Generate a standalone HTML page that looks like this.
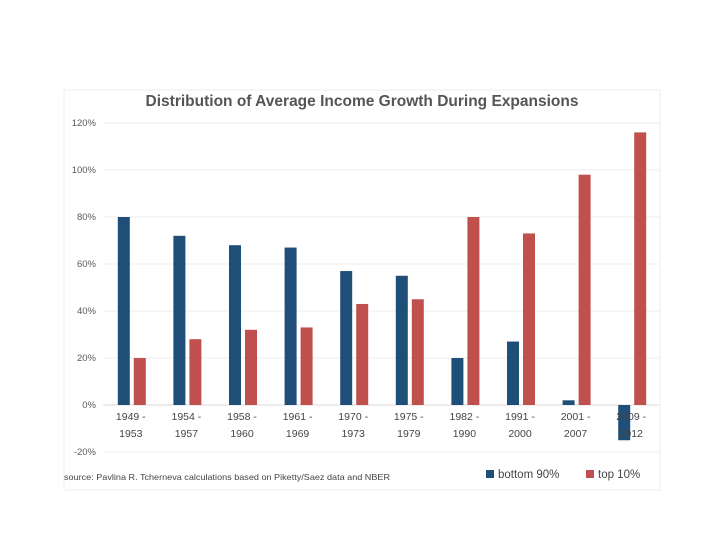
<!DOCTYPE html>
<html><head><meta charset="utf-8"><style>
body{margin:0;background:#fff;width:720px;height:540px;overflow:hidden}
svg{display:block;font-family:"Liberation Sans",sans-serif}
</style></head><body>
<svg id="c" width="720" height="540">
<rect x="64" y="90" width="596" height="400" fill="none" stroke="#eeeeee"/>
<text x="362" y="106" text-anchor="middle" font-size="15.5" font-weight="bold" fill="#555">Distribution of Average Income Growth During Expansions</text>
<g id="grid"></g><g id="bars"></g><g id="xl"></g>
<text x="64" y="480" font-size="8.5" fill="#444" textLength="326" lengthAdjust="spacingAndGlyphs">source: Pavlina R. Tcherneva calculations based on Piketty/Saez data and NBER</text>
<g>
<rect x="486" y="470" width="8" height="8" fill="#1f4e79"/>
<text x="498" y="478" font-size="11.5" fill="#444">bottom 90%</text>
<rect x="586" y="470" width="8" height="8" fill="#c0504d"/>
<text x="598" y="478" font-size="11.5" fill="#444">top 10%</text>
</g>
</svg>
<script>
const categoriesTop=["1949 -","1954 -","1958 -","1961 -","1970 -","1975 -","1982 -","1991 -","2001 -","2009 -"];
const categoriesBottom=["1953","1957","1960","1969","1973","1979","1990","2000","2007","2012"];
const bottom90=[80,72,68,67,57,55,20,27,2,-15];
const top10=[20,28,32,33,43,45,80,73,98,116];
const ticks=[-20,0,20,40,60,80,100,120];
const NS="http://www.w3.org/2000/svg";
const x0=103,x1=659,y=v=>405-v*2.35;
const bw=(x1-x0)/categoriesTop.length;
const cx=i=>x0+bw*(i+0.5);
function mk(t,a,p,txt){const e=document.createElementNS(NS,t);for(const k in a)e.setAttribute(k,a[k]);if(txt!=null)e.textContent=txt;p.appendChild(e);return e;}
const g=document.getElementById('grid'),b=document.getElementById('bars'),xl=document.getElementById('xl');
ticks.forEach(t=>{
const l=mk('line',{x1:x0,x2:x1,y1:y(t),y2:y(t),stroke:t===0?'#d9d9d9':'#ececec'},g);


const tx=mk('text',{x:96,y:y(t)+3,'text-anchor':'end','font-size':9.5,fill:'#595959'},g,t+'%');


});
categoriesTop.forEach((c,i)=>{
const v1=bottom90[i],v2=top10[i];
const r1=mk('rect',{x:cx(i)-13,y:Math.min(y(v1),y(0)),width:12,height:Math.abs(y(v1)-y(0)),fill:'#1f4e79'},b);


const r2=mk('rect',{x:cx(i)+3,y:Math.min(y(v2),y(0)),width:12,height:Math.abs(y(v2)-y(0)),fill:'#c0504d'},b);


const t1=mk('text',{x:cx(i),y:420,'text-anchor':'middle','font-size':10.5,fill:'#444'},xl,c);


const t2=mk('text',{x:cx(i),y:437,'text-anchor':'middle','font-size':10.5,fill:'#444'},xl,categoriesBottom[i]);


});
</script>
</body></html>
